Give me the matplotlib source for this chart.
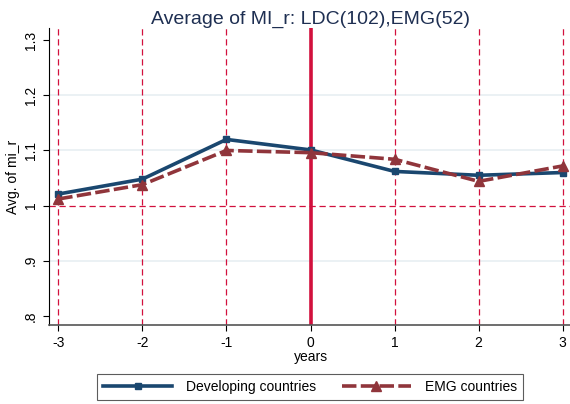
import matplotlib.pyplot as plt
import numpy as np

plt.rcParams['font.family'] = ['Liberation Sans', 'DejaVu Sans']

years = [-3, -2, -1, 0, 1, 2, 3]
ldc = [1.021, 1.048, 1.120, 1.101, 1.062, 1.055, 1.060]
emg = [1.012, 1.038, 1.100, 1.096, 1.084, 1.044, 1.072]
yticks = [0.8, 0.9, 1.0, 1.1, 1.2, 1.3]
ylabels = ['.8', '.9', '1', '1.1', '1.2', '1.3']

navy = '#1a476f'
maroon = '#90353b'
crimson = '#d2103d'

fig = plt.figure(figsize=(5.7, 4.04), dpi=100)
ax = fig.add_axes([49/570, 1 - 325/404, 523/570, 297/404])

for y in [0.9, 1.1, 1.2]:
    ax.axhline(y, color='#e8eff2', lw=1.2, zorder=0)
for x in years:
    if x != 0:
        ax.axvline(x, color=crimson, lw=0.9, ls=(0, (5, 3)), zorder=1)
ax.axvline(0, color=crimson, lw=2.6, zorder=1)
ax.axhline(1.0, color=crimson, lw=0.9, ls=(0, (5, 3)), zorder=1)

ax.plot(years, ldc, color=navy, lw=2.6, marker='s', ms=5,
        label='Developing countries', zorder=3)
ax.plot(years, emg, color=maroon, lw=2.6, ls=(0, (4, 1.2)), marker='^', ms=7.5,
        label='EMG countries', zorder=4)

ax.set_xlim(-3.11, 3.11)
ax.set_ylim(0.7836, 1.322)
ax.set_xticks(years)
ax.set_xticklabels([str(v) for v in years], fontsize=10)
ax.set_yticks(yticks)
ax.set_yticklabels(ylabels, fontsize=10, rotation=90, va='center')
ax.tick_params(length=4, width=0.8, colors='black', pad=4)
ax.spines['top'].set_visible(False)
ax.spines['right'].set_visible(False)
ax.spines['left'].set_color('black')
ax.spines['bottom'].set_color('#555555')
ax.spines['bottom'].set_linewidth(1.2)

ax.set_xlabel('years', fontsize=10, labelpad=0)
ax.set_ylabel('Avg. of mi_r', fontsize=10, labelpad=3)
ax.set_title('Average of MI_r: LDC(102),EMG(52)', fontsize=14, color='#1e2f52', pad=3)

leg = fig.legend(loc='center', bbox_to_anchor=(310/570, 1 - 387/404), ncol=2,
                 fontsize=10, frameon=True, fancybox=False, edgecolor='#333333',
                 handlelength=5.0, handletextpad=1.0, columnspacing=1.8,
                 borderpad=0.45, borderaxespad=0)
leg.get_frame().set_linewidth(0.8)

fig.savefig('out.png', dpi=100)
